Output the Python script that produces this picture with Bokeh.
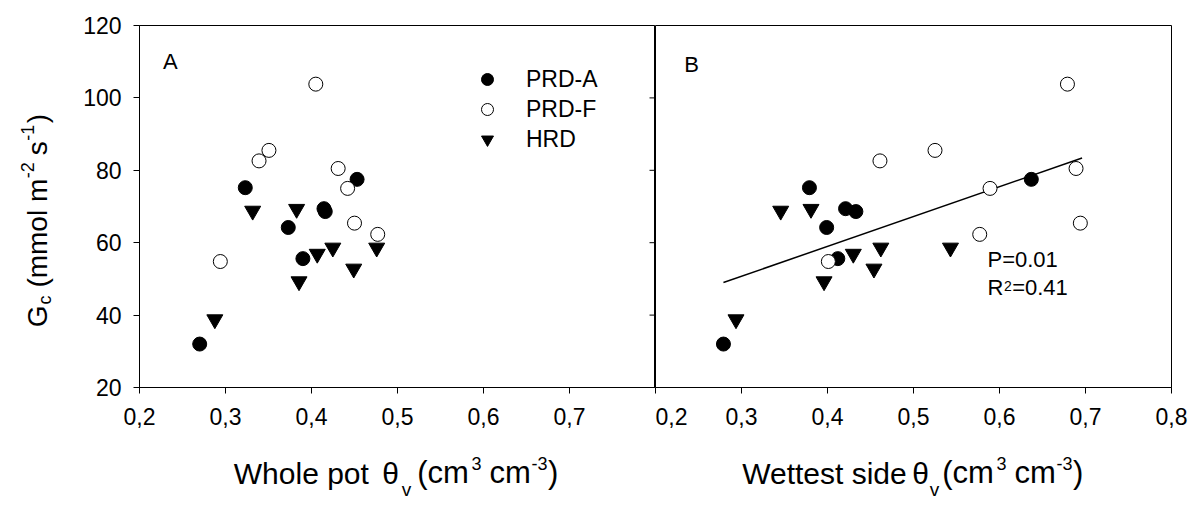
import math
from bokeh.plotting import figure
from bokeh.models import (Range1d, FixedTicker, Label, Legend, LegendItem,
                          CustomJSTickFormatter)
from bokeh.layouts import row, column
from bokeh.embed import file_html
from bokeh.resources import INLINE

# ---------------- data ----------------
gc_prd_a = [32.0, 75.2, 64.2, 55.6, 69.4, 68.6, 77.5]
whole_prd_a = [0.270, 0.323, 0.373, 0.390, 0.4145, 0.416, 0.453]
wet_prd_a = [0.279, 0.379, 0.399, 0.412, 0.421, 0.433, 0.637]

gc_prd_f = [103.8, 85.5, 82.6, 80.5, 75.0, 65.4, 62.3, 54.8]
whole_prd_f = [0.405, 0.3505, 0.339, 0.431, 0.442, 0.450, 0.477, 0.294]
wet_prd_f = [0.679, 0.525, 0.461, 0.689, 0.589, 0.694, 0.577, 0.401]

gc_hrd = [38.8, 68.8, 69.3, 49.3, 56.9, 58.6, 58.6, 52.8]
whole_hrd = [0.2876, 0.3316, 0.3827, 0.3855, 0.4067, 0.4248, 0.4758, 0.4491]
wet_hrd = [0.2936, 0.3456, 0.3808, 0.396, 0.430, 0.462, 0.543, 0.454]

fit_x = [0.279, 0.696]
fit_y = [49.0, 83.4]

x_ticks_a = [0.2, 0.3, 0.4, 0.5, 0.6, 0.7]
x_ticks_b = [0.2, 0.3, 0.4, 0.5, 0.6, 0.7, 0.8]
y_ticks = [20, 40, 60, 80, 100, 120]
series_labels = ["PRD-A", "PRD-F", "HRD"]
stats_p = "P=0.01"
stats_r = "R"
stats_r_sup = "2"
stats_r_val = "=0.41"

FONT = "Liberation Sans"
# the label's anchor ends up at the middle of the text box: shift to put the baseline where wanted
MID = 0.3465

# Arial / Liberation Sans advance widths (em)
WID = {'W': .944, 'h': .556, 'o': .556, 'l': .222, 'e': .556, ' ': .278, 'p': .556,
       't': .278, 'θ': .556, 'v': .5, '(': .333, 'c': .5, 'm': .833, '3': .556,
       '-': .333, ')': .333, 's': .5, 'i': .222, 'd': .556, 'G': .778, '2': .556,
       '1': .556, 'R': .722, '=': .584, '0': .556, '.': .278, '4': .556, 'P': .667}


def tw(s, size):
    return sum(WID.get(ch, 0.556) for ch in s) * size


def add_text(fig, text, size, x, y, angle=0.0):
    k = MID * size
    fig.add_layout(Label(x=x - math.sin(angle) * k, y=y + math.cos(angle) * k,
                         x_units="screen", y_units="screen", text=text,
                         text_font=FONT, text_font_size=f"{size}px", text_color="black",
                         text_align="left", text_baseline="alphabetic", angle=angle))


def rich(fig, pieces, x, y, angle=0.0):
    """pieces: (text, size, rise, gap) laid out one after another"""
    pos = 0.0
    for text, size, rise, gap in pieces:
        pos += gap
        if angle == 0.0:
            add_text(fig, text, size, x + pos, y + rise)
        else:
            add_text(fig, text, size, x - rise, y + pos, angle)
        pos += tw(text, size)


def rich_at(fig, pieces, x, y):
    """pieces: (text, size, rise, offset from start)"""
    for text, size, rise, off in pieces:
        add_text(fig, text, size, x + off, y + rise)


def text_fig(w, h):
    p = figure(x_range=Range1d(0, 1), y_range=Range1d(0, 1), frame_width=w, frame_height=h,
               x_axis_location=None, y_axis_location=None,
               min_border_left=0, min_border_right=0, min_border_top=0, min_border_bottom=0,
               output_backend="svg", toolbar_location=None,
               background_fill_color="white", border_fill_color="white")
    p.grid.visible = False
    p.outline_line_color = None
    return p


TOP = 25
BOTTOM = 48
ROW_H = TOP + 362 + BOTTOM
STRIP_H = 70


def make_fig(left, right, xt, show_y):
    p = figure(x_range=Range1d(0.2, 0.8), y_range=Range1d(20, 120),
               frame_width=516, frame_height=362,
               min_border_left=left, min_border_right=right,
               min_border_top=TOP, min_border_bottom=BOTTOM,
               output_backend="svg", toolbar_location=None,
               background_fill_color="white", border_fill_color="white")
    p.grid.visible = False
    p.outline_line_color = "black"
    p.outline_line_width = 1
    xa = p.xaxis[0]
    xa.ticker = FixedTicker(ticks=xt, minor_ticks=[])
    xa.formatter = CustomJSTickFormatter(code="return tick.toFixed(1).replace('.', ',');")
    axes = [xa]
    if show_y:
        ya = p.yaxis[0]
        ya.ticker = FixedTicker(ticks=y_ticks, minor_ticks=[])
        ya.major_label_standoff = 12
        axes.append(ya)
    else:
        p.yaxis.visible = False
    for ax in axes:
        ax.axis_line_color = "black"
        ax.major_tick_line_color = "black"
        ax.minor_tick_line_color = None
        ax.major_tick_out = 6
        ax.major_tick_in = 0
        ax.major_label_text_font = FONT
        ax.major_label_text_font_size = "23px"
        ax.major_label_text_color = "black"
    xa.major_label_standoff = 14
    return p


# ---------------- panel A ----------------
p1 = make_fig(57, 0, x_ticks_a, True)
ra = p1.scatter(whole_prd_a, gc_prd_a, marker="circle", size=14,
                fill_color="black", line_color="black")
rh = p1.scatter(whole_hrd, gc_hrd, marker="inverted_triangle", size=16,
                fill_color="black", line_color="black")
rf = p1.scatter(whole_prd_f, gc_prd_f, marker="circle", size=14,
                fill_color="white", line_color="black", line_width=1)
# tick marks of panel B's y axis, pointing outward into panel A
p1.ray(x=[0.8] * len(y_ticks), y=y_ticks, length=6, angle=math.pi,
       length_units="screen", line_color="black", line_width=1)

legend = Legend(items=[LegendItem(label=series_labels[0], renderers=[ra]),
                       LegendItem(label=series_labels[1], renderers=[rf]),
                       LegendItem(label=series_labels[2], renderers=[rh])],
                orientation="vertical", padding=0, margin=0, spacing=0,
                border_line_color=None, background_fill_alpha=0,
                glyph_width=30, glyph_height=30, label_height=30, label_standoff=24,
                label_text_font=FONT, label_text_font_size="23px",
                label_text_color="black", location=(333, 232.7))
p1.add_layout(legend)

add_text(p1, "A", 22, 23.4, 318.7)

# ---------------- panel B ----------------
p2 = make_fig(0, 23, x_ticks_b, False)
p2.line(fit_x, fit_y, line_color="black", line_width=1.5)
p2.scatter(wet_prd_a, gc_prd_a, marker="circle", size=14,
           fill_color="black", line_color="black")
p2.scatter(wet_hrd, gc_hrd, marker="inverted_triangle", size=16,
           fill_color="black", line_color="black")
p2.scatter(wet_prd_f, gc_prd_f, marker="circle", size=14,
           fill_color="white", line_color="black", line_width=1)

add_text(p2, "B", 22, 28.7, 315.3)
add_text(p2, stats_p, 22, 332, 120.3)
rich(p2, [(stats_r, 22, 0, 0), (stats_r_sup, 14, 5, 0.5), (stats_r_val, 22, 0, 0.5)],
     332, 92)

# ---------------- axis titles (own text strips) ----------------
pl = text_fig(80, ROW_H)
rich(pl, [("G", 28, 0, 0), ("c", 18, -4, 1), ("(mmol m", 28, 0, 7.8),
          ("-2", 18, 13, 0.5), ("s", 28, 0, 7), ("-1", 18, 13, 0.5), (")", 28, 0, 1.5)],
     46.7, ROW_H - 301.7, angle=math.pi / 2)

pb = text_fig(1192, STRIP_H)
BASE = ROW_H + STRIP_H - 483
# offsets of the unit part, relative to the "(" position
UNITS = [("(cm", 31, 0, 0.0), ("3", 18, 14, 54.3), ("cm", 31, 0, 72.3),
         ("-3", 18, 14, 114.3), (")", 31, 0, 130.8)]


def axis_title(start, main, theta_off, v_off, paren_off):
    pieces = [(main, 30, 0, 0.0), ("θ", 30, 0, theta_off), ("v", 19, -13, v_off)]
    pieces += [(t, s, r, paren_off + o) for t, s, r, o in UNITS]
    rich_at(pb, pieces, start, BASE)


axis_title(233.3, "Whole pot", 148.4, 168.0, 183.4)
axis_title(741.7, "Wettest side", 170.0, 187.5, 200.0)

layout = column(row(pl, p1, p2), pb)
open("out.html", "w").write(file_html(layout, INLINE))
